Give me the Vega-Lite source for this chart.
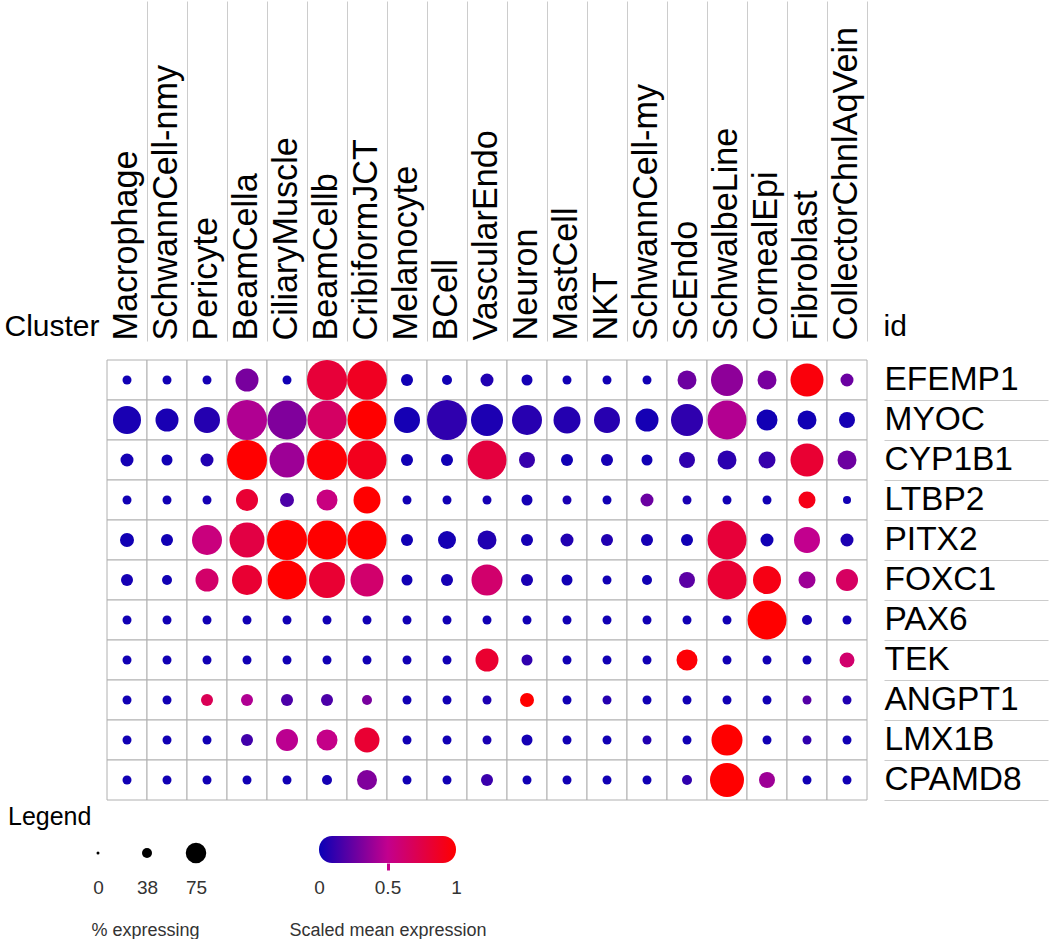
{
  "$schema": "https://vega.github.io/schema/vega-lite/v6.json",
  "padding": {"left": 3, "top": 0, "right": 3, "bottom": 0},
  "background": "white",
  "config": {"font": "Liberation Sans", "view": {"stroke": null}},
  "datasets": {
    "cells": [
      {"cluster":"Macrophage","gene":"EFEMP1","pct":3.8,"expr":0.02},
      {"cluster":"SchwannCell-nmy","gene":"EFEMP1","pct":3.8,"expr":0.02},
      {"cluster":"Pericyte","gene":"EFEMP1","pct":3.8,"expr":0.03},
      {"cluster":"BeamCella","gene":"EFEMP1","pct":24.8,"expr":0.3},
      {"cluster":"CiliaryMuscle","gene":"EFEMP1","pct":3.8,"expr":0.02},
      {"cluster":"BeamCellb","gene":"EFEMP1","pct":75,"expr":0.8},
      {"cluster":"CribiformJCT","gene":"EFEMP1","pct":74,"expr":0.88},
      {"cluster":"Melanocyte","gene":"EFEMP1","pct":6.8,"expr":0.02},
      {"cluster":"BCell","gene":"EFEMP1","pct":4.7,"expr":0.02},
      {"cluster":"VascularEndo","gene":"EFEMP1","pct":7.9,"expr":0.06},
      {"cluster":"Neuron","gene":"EFEMP1","pct":5.7,"expr":0.03},
      {"cluster":"MastCell","gene":"EFEMP1","pct":3.8,"expr":0.02},
      {"cluster":"NKT","gene":"EFEMP1","pct":3.8,"expr":0.02},
      {"cluster":"SchwannCell-my","gene":"EFEMP1","pct":3.8,"expr":0.02},
      {"cluster":"ScEndo","gene":"EFEMP1","pct":16.9,"expr":0.27},
      {"cluster":"SchwalbeLine","gene":"EFEMP1","pct":48,"expr":0.36},
      {"cluster":"CornealEpi","gene":"EFEMP1","pct":16.9,"expr":0.3},
      {"cluster":"Fibroblast","gene":"EFEMP1","pct":51.1,"expr":0.96},
      {"cluster":"CollectorChnlAqVein","gene":"EFEMP1","pct":7.9,"expr":0.26},

      {"cluster":"Macrophage","gene":"MYOC","pct":36.8,"expr":0.04},
      {"cluster":"SchwannCell-nmy","gene":"MYOC","pct":24.8,"expr":0.04},
      {"cluster":"Pericyte","gene":"MYOC","pct":31.7,"expr":0.07},
      {"cluster":"BeamCella","gene":"MYOC","pct":75,"expr":0.45},
      {"cluster":"CiliaryMuscle","gene":"MYOC","pct":71.3,"expr":0.32},
      {"cluster":"BeamCellb","gene":"MYOC","pct":71.3,"expr":0.65},
      {"cluster":"CribiformJCT","gene":"MYOC","pct":71.3,"expr":1},
      {"cluster":"Melanocyte","gene":"MYOC","pct":31.7,"expr":0.03},
      {"cluster":"BCell","gene":"MYOC","pct":75,"expr":0.1},
      {"cluster":"VascularEndo","gene":"MYOC","pct":48,"expr":0.05},
      {"cluster":"Neuron","gene":"MYOC","pct":42.2,"expr":0.08},
      {"cluster":"MastCell","gene":"MYOC","pct":34.2,"expr":0.07},
      {"cluster":"NKT","gene":"MYOC","pct":31.7,"expr":0.08},
      {"cluster":"SchwannCell-my","gene":"MYOC","pct":24.8,"expr":0.03},
      {"cluster":"ScEndo","gene":"MYOC","pct":48,"expr":0.1},
      {"cluster":"SchwalbeLine","gene":"MYOC","pct":71.3,"expr":0.46},
      {"cluster":"CornealEpi","gene":"MYOC","pct":20.7,"expr":0.02},
      {"cluster":"Fibroblast","gene":"MYOC","pct":16.9,"expr":0.02},
      {"cluster":"CollectorChnlAqVein","gene":"MYOC","pct":12,"expr":0.03},

      {"cluster":"Macrophage","gene":"CYP1B1","pct":7.9,"expr":0.03},
      {"cluster":"SchwannCell-nmy","gene":"CYP1B1","pct":5.7,"expr":0.02},
      {"cluster":"Pericyte","gene":"CYP1B1","pct":7.9,"expr":0.06},
      {"cluster":"BeamCella","gene":"CYP1B1","pct":75,"expr":1},
      {"cluster":"CiliaryMuscle","gene":"CYP1B1","pct":57.4,"expr":0.4},
      {"cluster":"BeamCellb","gene":"CYP1B1","pct":75,"expr":0.98},
      {"cluster":"CribiformJCT","gene":"CYP1B1","pct":71.3,"expr":0.9},
      {"cluster":"Melanocyte","gene":"CYP1B1","pct":6.8,"expr":0.02},
      {"cluster":"BCell","gene":"CYP1B1","pct":6.8,"expr":0.02},
      {"cluster":"VascularEndo","gene":"CYP1B1","pct":71.3,"expr":0.78},
      {"cluster":"Neuron","gene":"CYP1B1","pct":12,"expr":0.12},
      {"cluster":"MastCell","gene":"CYP1B1","pct":6.8,"expr":0.02},
      {"cluster":"NKT","gene":"CYP1B1","pct":6.8,"expr":0.03},
      {"cluster":"SchwannCell-my","gene":"CYP1B1","pct":5.7,"expr":0.02},
      {"cluster":"ScEndo","gene":"CYP1B1","pct":12,"expr":0.1},
      {"cluster":"SchwalbeLine","gene":"CYP1B1","pct":16.9,"expr":0.09},
      {"cluster":"CornealEpi","gene":"CYP1B1","pct":13.5,"expr":0.12},
      {"cluster":"Fibroblast","gene":"CYP1B1","pct":51.1,"expr":0.82},
      {"cluster":"CollectorChnlAqVein","gene":"CYP1B1","pct":16.9,"expr":0.27},

      {"cluster":"Macrophage","gene":"LTBP2","pct":3.8,"expr":0.02},
      {"cluster":"SchwannCell-nmy","gene":"LTBP2","pct":3.8,"expr":0.02},
      {"cluster":"Pericyte","gene":"LTBP2","pct":3.8,"expr":0.03},
      {"cluster":"BeamCella","gene":"LTBP2","pct":22.7,"expr":0.82},
      {"cluster":"CiliaryMuscle","gene":"LTBP2","pct":9.2,"expr":0.18},
      {"cluster":"BeamCellb","gene":"LTBP2","pct":20.7,"expr":0.55},
      {"cluster":"CribiformJCT","gene":"LTBP2","pct":34.2,"expr":1},
      {"cluster":"Melanocyte","gene":"LTBP2","pct":3.8,"expr":0.02},
      {"cluster":"BCell","gene":"LTBP2","pct":3.8,"expr":0.02},
      {"cluster":"VascularEndo","gene":"LTBP2","pct":3.8,"expr":0.03},
      {"cluster":"Neuron","gene":"LTBP2","pct":5.7,"expr":0.03},
      {"cluster":"MastCell","gene":"LTBP2","pct":3.8,"expr":0.04},
      {"cluster":"NKT","gene":"LTBP2","pct":3.8,"expr":0.02},
      {"cluster":"SchwannCell-my","gene":"LTBP2","pct":7.9,"expr":0.26},
      {"cluster":"ScEndo","gene":"LTBP2","pct":3.8,"expr":0.04},
      {"cluster":"SchwalbeLine","gene":"LTBP2","pct":3.8,"expr":0.02},
      {"cluster":"CornealEpi","gene":"LTBP2","pct":3.8,"expr":0.02},
      {"cluster":"Fibroblast","gene":"LTBP2","pct":13.5,"expr":0.92},
      {"cluster":"CollectorChnlAqVein","gene":"LTBP2","pct":3,"expr":0.02},

      {"cluster":"Macrophage","gene":"PITX2","pct":9.2,"expr":0.02},
      {"cluster":"SchwannCell-nmy","gene":"PITX2","pct":6.8,"expr":0.02},
      {"cluster":"Pericyte","gene":"PITX2","pct":42.2,"expr":0.56},
      {"cluster":"BeamCella","gene":"PITX2","pct":57.4,"expr":0.76},
      {"cluster":"CiliaryMuscle","gene":"PITX2","pct":75,"expr":1},
      {"cluster":"BeamCellb","gene":"PITX2","pct":71.3,"expr":1},
      {"cluster":"CribiformJCT","gene":"PITX2","pct":71.3,"expr":1},
      {"cluster":"Melanocyte","gene":"PITX2","pct":6.8,"expr":0.02},
      {"cluster":"BCell","gene":"PITX2","pct":15.2,"expr":0.03},
      {"cluster":"VascularEndo","gene":"PITX2","pct":16.9,"expr":0.06},
      {"cluster":"Neuron","gene":"PITX2","pct":6.8,"expr":0.03},
      {"cluster":"MastCell","gene":"PITX2","pct":7.9,"expr":0.06},
      {"cluster":"NKT","gene":"PITX2","pct":6.8,"expr":0.06},
      {"cluster":"SchwannCell-my","gene":"PITX2","pct":6.8,"expr":0.03},
      {"cluster":"ScEndo","gene":"PITX2","pct":6.8,"expr":0.02},
      {"cluster":"SchwalbeLine","gene":"PITX2","pct":71.3,"expr":0.8},
      {"cluster":"CornealEpi","gene":"PITX2","pct":7.9,"expr":0.02},
      {"cluster":"Fibroblast","gene":"PITX2","pct":31.7,"expr":0.5},
      {"cluster":"CollectorChnlAqVein","gene":"PITX2","pct":7.9,"expr":0.05},

      {"cluster":"Macrophage","gene":"FOXC1","pct":6.8,"expr":0.03},
      {"cluster":"SchwannCell-nmy","gene":"FOXC1","pct":4.7,"expr":0.02},
      {"cluster":"Pericyte","gene":"FOXC1","pct":24.8,"expr":0.63},
      {"cluster":"BeamCella","gene":"FOXC1","pct":42.2,"expr":0.82},
      {"cluster":"CiliaryMuscle","gene":"FOXC1","pct":71.3,"expr":1},
      {"cluster":"BeamCellb","gene":"FOXC1","pct":60.8,"expr":0.82},
      {"cluster":"CribiformJCT","gene":"FOXC1","pct":51.1,"expr":0.62},
      {"cluster":"Melanocyte","gene":"FOXC1","pct":5.7,"expr":0.02},
      {"cluster":"BCell","gene":"FOXC1","pct":6.8,"expr":0.03},
      {"cluster":"VascularEndo","gene":"FOXC1","pct":45.1,"expr":0.62},
      {"cluster":"Neuron","gene":"FOXC1","pct":6.8,"expr":0.04},
      {"cluster":"MastCell","gene":"FOXC1","pct":5.7,"expr":0.02},
      {"cluster":"NKT","gene":"FOXC1","pct":3.8,"expr":0.02},
      {"cluster":"SchwannCell-my","gene":"FOXC1","pct":4.7,"expr":0.02},
      {"cluster":"ScEndo","gene":"FOXC1","pct":12,"expr":0.22},
      {"cluster":"SchwalbeLine","gene":"FOXC1","pct":71.3,"expr":0.82},
      {"cluster":"CornealEpi","gene":"FOXC1","pct":36.8,"expr":0.93},
      {"cluster":"Fibroblast","gene":"FOXC1","pct":13.5,"expr":0.4},
      {"cluster":"CollectorChnlAqVein","gene":"FOXC1","pct":22.7,"expr":0.66},

      {"cluster":"Macrophage","gene":"PAX6","pct":3.8,"expr":0.02},
      {"cluster":"SchwannCell-nmy","gene":"PAX6","pct":3.8,"expr":0.02},
      {"cluster":"Pericyte","gene":"PAX6","pct":3.8,"expr":0.02},
      {"cluster":"BeamCella","gene":"PAX6","pct":3.8,"expr":0.02},
      {"cluster":"CiliaryMuscle","gene":"PAX6","pct":3.8,"expr":0.02},
      {"cluster":"BeamCellb","gene":"PAX6","pct":3.8,"expr":0.02},
      {"cluster":"CribiformJCT","gene":"PAX6","pct":3.8,"expr":0.02},
      {"cluster":"Melanocyte","gene":"PAX6","pct":3.8,"expr":0.02},
      {"cluster":"BCell","gene":"PAX6","pct":3.8,"expr":0.02},
      {"cluster":"VascularEndo","gene":"PAX6","pct":3.8,"expr":0.02},
      {"cluster":"Neuron","gene":"PAX6","pct":3.8,"expr":0.02},
      {"cluster":"MastCell","gene":"PAX6","pct":3.8,"expr":0.02},
      {"cluster":"NKT","gene":"PAX6","pct":3.8,"expr":0.02},
      {"cluster":"SchwannCell-my","gene":"PAX6","pct":3.8,"expr":0.02},
      {"cluster":"ScEndo","gene":"PAX6","pct":3.8,"expr":0.02},
      {"cluster":"SchwalbeLine","gene":"PAX6","pct":3.8,"expr":0.02},
      {"cluster":"CornealEpi","gene":"PAX6","pct":71.3,"expr":1},
      {"cluster":"Fibroblast","gene":"PAX6","pct":4.7,"expr":0.03},
      {"cluster":"CollectorChnlAqVein","gene":"PAX6","pct":3.8,"expr":0.02},

      {"cluster":"Macrophage","gene":"TEK","pct":3.8,"expr":0.02},
      {"cluster":"SchwannCell-nmy","gene":"TEK","pct":3.8,"expr":0.02},
      {"cluster":"Pericyte","gene":"TEK","pct":3.8,"expr":0.02},
      {"cluster":"BeamCella","gene":"TEK","pct":3.8,"expr":0.02},
      {"cluster":"CiliaryMuscle","gene":"TEK","pct":3.8,"expr":0.02},
      {"cluster":"BeamCellb","gene":"TEK","pct":3.8,"expr":0.02},
      {"cluster":"CribiformJCT","gene":"TEK","pct":3.8,"expr":0.02},
      {"cluster":"Melanocyte","gene":"TEK","pct":3.8,"expr":0.02},
      {"cluster":"BCell","gene":"TEK","pct":3.8,"expr":0.02},
      {"cluster":"VascularEndo","gene":"TEK","pct":24.8,"expr":0.83},
      {"cluster":"Neuron","gene":"TEK","pct":5.7,"expr":0.1},
      {"cluster":"MastCell","gene":"TEK","pct":3.8,"expr":0.02},
      {"cluster":"NKT","gene":"TEK","pct":3.8,"expr":0.02},
      {"cluster":"SchwannCell-my","gene":"TEK","pct":3.8,"expr":0.02},
      {"cluster":"ScEndo","gene":"TEK","pct":20.7,"expr":0.98},
      {"cluster":"SchwalbeLine","gene":"TEK","pct":3.8,"expr":0.02},
      {"cluster":"CornealEpi","gene":"TEK","pct":3.8,"expr":0.02},
      {"cluster":"Fibroblast","gene":"TEK","pct":3.8,"expr":0.02},
      {"cluster":"CollectorChnlAqVein","gene":"TEK","pct":10.5,"expr":0.62},

      {"cluster":"Macrophage","gene":"ANGPT1","pct":3.8,"expr":0.02},
      {"cluster":"SchwannCell-nmy","gene":"ANGPT1","pct":3.8,"expr":0.02},
      {"cluster":"Pericyte","gene":"ANGPT1","pct":6.8,"expr":0.7},
      {"cluster":"BeamCella","gene":"ANGPT1","pct":6.8,"expr":0.45},
      {"cluster":"CiliaryMuscle","gene":"ANGPT1","pct":6.8,"expr":0.18},
      {"cluster":"BeamCellb","gene":"ANGPT1","pct":6.8,"expr":0.18},
      {"cluster":"CribiformJCT","gene":"ANGPT1","pct":4.7,"expr":0.3},
      {"cluster":"Melanocyte","gene":"ANGPT1","pct":3.8,"expr":0.02},
      {"cluster":"BCell","gene":"ANGPT1","pct":3.8,"expr":0.02},
      {"cluster":"VascularEndo","gene":"ANGPT1","pct":3.8,"expr":0.05},
      {"cluster":"Neuron","gene":"ANGPT1","pct":9.2,"expr":1},
      {"cluster":"MastCell","gene":"ANGPT1","pct":3.8,"expr":0.02},
      {"cluster":"NKT","gene":"ANGPT1","pct":3.8,"expr":0.07},
      {"cluster":"SchwannCell-my","gene":"ANGPT1","pct":3.8,"expr":0.02},
      {"cluster":"ScEndo","gene":"ANGPT1","pct":3.8,"expr":0.02},
      {"cluster":"SchwalbeLine","gene":"ANGPT1","pct":3.8,"expr":0.02},
      {"cluster":"CornealEpi","gene":"ANGPT1","pct":3.8,"expr":0.02},
      {"cluster":"Fibroblast","gene":"ANGPT1","pct":3.8,"expr":0.2},
      {"cluster":"CollectorChnlAqVein","gene":"ANGPT1","pct":3.8,"expr":0.06},

      {"cluster":"Macrophage","gene":"LMX1B","pct":3.8,"expr":0.02},
      {"cluster":"SchwannCell-nmy","gene":"LMX1B","pct":3.8,"expr":0.02},
      {"cluster":"Pericyte","gene":"LMX1B","pct":3.8,"expr":0.02},
      {"cluster":"BeamCella","gene":"LMX1B","pct":6.8,"expr":0.15},
      {"cluster":"CiliaryMuscle","gene":"LMX1B","pct":22.7,"expr":0.48},
      {"cluster":"BeamCellb","gene":"LMX1B","pct":20.7,"expr":0.52},
      {"cluster":"CribiformJCT","gene":"LMX1B","pct":29.3,"expr":0.82},
      {"cluster":"Melanocyte","gene":"LMX1B","pct":3.8,"expr":0.02},
      {"cluster":"BCell","gene":"LMX1B","pct":3.8,"expr":0.02},
      {"cluster":"VascularEndo","gene":"LMX1B","pct":3.8,"expr":0.04},
      {"cluster":"Neuron","gene":"LMX1B","pct":5.7,"expr":0.03},
      {"cluster":"MastCell","gene":"LMX1B","pct":3.8,"expr":0.02},
      {"cluster":"NKT","gene":"LMX1B","pct":3.8,"expr":0.02},
      {"cluster":"SchwannCell-my","gene":"LMX1B","pct":3.8,"expr":0.06},
      {"cluster":"ScEndo","gene":"LMX1B","pct":3.8,"expr":0.02},
      {"cluster":"SchwalbeLine","gene":"LMX1B","pct":45.1,"expr":1},
      {"cluster":"CornealEpi","gene":"LMX1B","pct":3.8,"expr":0.02},
      {"cluster":"Fibroblast","gene":"LMX1B","pct":3.8,"expr":0.1},
      {"cluster":"CollectorChnlAqVein","gene":"LMX1B","pct":3.8,"expr":0.02},

      {"cluster":"Macrophage","gene":"CPAMD8","pct":3.8,"expr":0.02},
      {"cluster":"SchwannCell-nmy","gene":"CPAMD8","pct":3.8,"expr":0.02},
      {"cluster":"Pericyte","gene":"CPAMD8","pct":3.8,"expr":0.02},
      {"cluster":"BeamCella","gene":"CPAMD8","pct":3.8,"expr":0.02},
      {"cluster":"CiliaryMuscle","gene":"CPAMD8","pct":3.8,"expr":0.02},
      {"cluster":"BeamCellb","gene":"CPAMD8","pct":4.7,"expr":0.03},
      {"cluster":"CribiformJCT","gene":"CPAMD8","pct":18.8,"expr":0.32},
      {"cluster":"Melanocyte","gene":"CPAMD8","pct":3.8,"expr":0.02},
      {"cluster":"BCell","gene":"CPAMD8","pct":3.8,"expr":0.02},
      {"cluster":"VascularEndo","gene":"CPAMD8","pct":6.8,"expr":0.13},
      {"cluster":"Neuron","gene":"CPAMD8","pct":3.8,"expr":0.02},
      {"cluster":"MastCell","gene":"CPAMD8","pct":3.8,"expr":0.02},
      {"cluster":"NKT","gene":"CPAMD8","pct":3.8,"expr":0.02},
      {"cluster":"SchwannCell-my","gene":"CPAMD8","pct":3.8,"expr":0.02},
      {"cluster":"ScEndo","gene":"CPAMD8","pct":4.7,"expr":0.1},
      {"cluster":"SchwalbeLine","gene":"CPAMD8","pct":54.2,"expr":1},
      {"cluster":"CornealEpi","gene":"CPAMD8","pct":12,"expr":0.4},
      {"cluster":"Fibroblast","gene":"CPAMD8","pct":3.8,"expr":0.02},
      {"cluster":"CollectorChnlAqVein","gene":"CPAMD8","pct":3.8,"expr":0.02}
    ],
    "sizeLegend": [{"pct": 0}, {"pct": 38}, {"pct": 75}],
    "colorBar": [{"lo": 0, "hi": 1}]
  },
  "spacing": 4,
  "resolve": {"scale": {"size": "independent", "color": "independent", "x": "independent", "y": "independent"}},
  "vconcat": [
    {
      "width": 760,
      "height": 440,
      "data": {"name": "cells"},
      "encoding": {
        "x": {
          "field": "cluster", "type": "nominal", "sort": null,
          "scale": {"paddingInner": 0, "paddingOuter": 0},
          "axis": {
            "orient": "top", "domain": false, "grid": false,
            "ticks": true, "bandPosition": 1, "tickSize": 340, "tickColor": "#cccccc", "tickWidth": 1,
            "offset": 19,
            "labelAngle": -90, "labelAlign": "left", "labelBaseline": "middle",
            "labelPadding": -339, "labelFontSize": 34.2, "labelColor": "#000000",
            "labelLimit": 0, "labelOverlap": false, "labelFont": "Liberation Sans",
            "title": "Cluster", "titleFont": "Liberation Sans", "titleFontSize": 30, "titleFontWeight": "normal",
            "titleColor": "#000000", "titleAngle": 0, "titleAlign": "right", "titleBaseline": "alphabetic",
            "titleX": -8, "titleY": -5.5
          }
        },
        "y": {
          "field": "gene", "type": "nominal", "sort": null,
          "scale": {"paddingInner": 0, "paddingOuter": 0},
          "axis": {
            "orient": "right", "domain": false, "grid": false,
            "ticks": true, "bandPosition": 1, "tickSize": 164, "tickColor": "#cccccc", "tickWidth": 1,
            "offset": 17,
            "labelAlign": "left", "labelBaseline": "middle",
            "labelPadding": -164, "labelFontSize": 33.5, "labelColor": "#000000",
            "labelLimit": 0, "labelOverlap": false, "labelFont": "Liberation Sans",
            "title": "id", "titleFont": "Liberation Sans", "titleFontSize": 30, "titleFontWeight": "normal",
            "titleColor": "#000000", "titleAngle": 0, "titleAlign": "left", "titleBaseline": "alphabetic",
            "titleX": -1, "titleY": -24.5
          }
        }
      },
      "layer": [
        {"mark": {"type": "rect", "fill": "white", "stroke": "#b0b0b0", "strokeWidth": 1}},
        {
          "mark": {"type": "circle", "opacity": 1},
          "encoding": {
            "size": {"field": "pct", "type": "quantitative", "scale": {"domain": [0, 75], "range": [0, 1600]}, "legend": null},
            "color": {"field": "expr", "type": "quantitative", "scale": {"domain": [0, 0.5, 1], "range": ["#0a00b6", "#c2008e", "#ff0000"], "interpolate": "rgb"}, "legend": null}
          }
        }
      ]
    },
    {
      "title": {"text": "Legend", "fontSize": 25, "fontWeight": "normal", "anchor": "start", "frame": "group", "color": "#000000", "offset": 6, "dx": -99, "font": "Liberation Sans"},
      "spacing": 81,
      "resolve": {"scale": {"size": "independent", "x": "independent"}},
      "hconcat": [
        {
          "width": 100,
          "height": 34,
          "data": {"name": "sizeLegend"},
          "mark": {"type": "circle", "color": "#000000", "opacity": 1},
          "encoding": {
            "x": {
              "field": "pct", "type": "ordinal",
              "scale": {"type": "point", "range": [-9, 89], "padding": 0},
              "axis": {
                "domain": false, "ticks": false, "grid": false, "labelAngle": 0,
                "labelFontSize": 19, "labelColor": "#333333", "labelPadding": 8, "labelBaseline": "top", "labelAlign": "center",
                "title": "% expressing", "titleFontSize": 18, "titleFontWeight": "normal", "titleColor": "#333333",
                "titleX": 38, "titleY": 65, "titleAlign": "center", "titleBaseline": "alphabetic"
              }
            },
            "size": {"field": "pct", "type": "quantitative", "scale": {"domain": [0, 38, 75], "range": [9, 100, 420]}, "legend": null}
          }
        },
        {
          "width": 137,
          "height": 27,
          "data": {"name": "colorBar"},
          "mark": {
            "type": "rect", "cornerRadius": 13,
            "fill": {"gradient": "linear", "x1": 0, "y1": 0, "x2": 1, "y2": 0,
              "stops": [{"offset": 0, "color": "#0a00b6"}, {"offset": 0.5, "color": "#c2008e"}, {"offset": 1, "color": "#ff0000"}]}
          },
          "encoding": {
            "x": {
              "field": "lo", "type": "quantitative",
              "scale": {"domain": [0, 1], "nice": false},
              "axis": {
                "values": [0, 0.5, 1], "format": ".1~f", "domain": false, "grid": false,
                "ticks": true, "tickSize": 7, "tickWidth": 3,
                "tickColor": {"condition": {"test": "datum.value == 0.5", "value": "#c8008c"}, "value": "rgba(0,0,0,0)"},
                "labelFontSize": 19, "labelColor": "#333333", "labelPadding": 8, "labelBaseline": "top", "labelFlush": false,
                "title": "Scaled mean expression", "titleFontSize": 18, "titleFontWeight": "normal", "titleColor": "#333333",
                "titleX": 68.5, "titleY": 72, "titleAlign": "center", "titleBaseline": "alphabetic"
              }
            },
            "x2": {"field": "hi"}
          }
        }
      ]
    }
  ]
}
